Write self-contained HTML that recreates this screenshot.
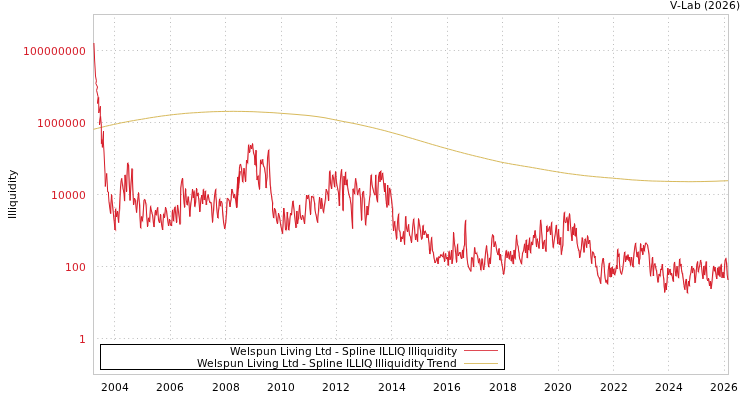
<!DOCTYPE html>
<html lang="en">
<head>
<meta charset="utf-8">
<title>V-Lab - Welspun Living Ltd - Spline ILLIQ Illiquidity</title>
<style>
html,body{margin:0;padding:0;background:#fff;}
body{width:750px;height:400px;overflow:hidden;}
svg{display:block;}
text{font-family:"DejaVu Sans","Liberation Sans",sans-serif;font-size:10.67px;fill:#000;}
.yl{fill:#d61c28;}
.grid line{stroke:#bcbcbc;stroke-width:1;stroke-dasharray:1 3.4;stroke-linecap:butt;}
</style>
</head>
<body>
<svg width="750" height="400" viewBox="0 0 750 400">
<rect x="0" y="0" width="750" height="400" fill="#ffffff"/>
<g class="grid">
<line x1="114.5" y1="375" x2="114.5" y2="15"/>
<line x1="170.5" y1="375" x2="170.5" y2="15"/>
<line x1="225.5" y1="375" x2="225.5" y2="15"/>
<line x1="281.5" y1="375" x2="281.5" y2="15"/>
<line x1="336.5" y1="375" x2="336.5" y2="15"/>
<line x1="391.5" y1="375" x2="391.5" y2="15"/>
<line x1="447.5" y1="375" x2="447.5" y2="15"/>
<line x1="502.5" y1="375" x2="502.5" y2="15"/>
<line x1="558.5" y1="375" x2="558.5" y2="15"/>
<line x1="613.5" y1="375" x2="613.5" y2="15"/>
<line x1="668.5" y1="375" x2="668.5" y2="15"/>
<line x1="724.5" y1="375" x2="724.5" y2="15"/>
<line x1="93" y1="338.5" x2="728" y2="338.5"/>
<line x1="93" y1="266.5" x2="728" y2="266.5"/>
<line x1="93" y1="194.5" x2="728" y2="194.5"/>
<line x1="93" y1="122.5" x2="728" y2="122.5"/>
<line x1="93" y1="50.5" x2="728" y2="50.5"/>
</g>
<rect x="93.5" y="14.5" width="635" height="360" fill="none" stroke="#c8c8c8" stroke-width="1"/>
<polyline fill="none" stroke="#d8ba5c" stroke-width="1" stroke-linejoin="round" points="93.5,129.3 97.5,128.3 101.5,127.3 105.5,126.3 109.5,125.4 113.5,124.5 117.4,123.7 121.4,122.8 125.4,122.1 129.4,121.3 133.4,120.6 137.4,119.9 141.4,119.3 145.4,118.6 149.4,117.9 153.4,117.3 157.3,116.7 161.3,116.1 165.3,115.6 169.3,115.1 173.3,114.6 177.3,114.2 181.3,113.8 185.3,113.4 189.3,113.1 193.3,112.8 197.3,112.6 201.2,112.3 205.2,112.1 209.2,111.9 213.2,111.7 217.2,111.6 221.2,111.5 225.2,111.4 229.2,111.4 233.2,111.3 237.2,111.4 241.2,111.4 245.1,111.5 249.1,111.6 253.1,111.7 257.1,111.9 261.1,112.1 265.1,112.3 269.1,112.5 273.1,112.7 277.1,113.0 281.1,113.3 285.0,113.6 289.0,113.9 293.0,114.2 297.0,114.5 301.0,114.9 305.0,115.2 309.0,115.6 313.0,116.1 317.0,116.6 321.0,117.2 325.0,117.8 328.9,118.6 332.9,119.4 336.9,120.2 340.9,121.0 344.9,121.8 348.9,122.5 352.9,123.3 356.9,124.1 360.9,125.0 364.9,125.9 368.8,126.8 372.8,127.7 376.8,128.7 380.8,129.7 384.8,130.7 388.8,131.8 392.8,132.9 396.8,134.0 400.8,135.1 404.8,136.3 408.8,137.5 412.7,138.6 416.7,139.8 420.7,141.0 424.7,142.2 428.7,143.4 432.7,144.6 436.7,145.7 440.7,146.9 444.7,148.0 448.7,149.1 452.7,150.2 456.6,151.3 460.6,152.3 464.6,153.4 468.6,154.4 472.6,155.4 476.6,156.4 480.6,157.3 484.6,158.3 488.6,159.3 492.6,160.2 496.5,161.1 500.5,162.0 504.5,162.8 508.5,163.5 512.5,164.3 516.5,164.9 520.5,165.6 524.5,166.3 528.5,166.9 532.5,167.6 536.5,168.3 540.4,169.0 544.4,169.7 548.4,170.4 552.4,171.1 556.4,171.7 560.4,172.4 564.4,173.0 568.4,173.6 572.4,174.1 576.4,174.6 580.3,175.1 584.3,175.6 588.3,176.0 592.3,176.4 596.3,176.8 600.3,177.1 604.3,177.5 608.3,177.8 612.3,178.1 616.3,178.5 620.3,178.8 624.2,179.2 628.2,179.5 632.2,179.9 636.2,180.1 640.2,180.4 644.2,180.6 648.2,180.8 652.2,181.0 656.2,181.1 660.2,181.2 664.2,181.3 668.1,181.4 672.1,181.5 676.1,181.5 680.1,181.6 684.1,181.6 688.1,181.7 692.1,181.7 696.1,181.6 700.1,181.6 704.1,181.5 708.0,181.4 712.0,181.3 716.0,181.2 720.0,181.0 724.0,180.9 728.0,180.7"/>
<polyline fill="none" stroke="#d71c28" stroke-opacity="0.42" stroke-width="0.8" stroke-linejoin="round" points="109.5,202.2 110.2,207.6 111.1,213.7 110.7,204.0 112.1,195.3 111.6,199.2 112.8,205.8 113.9,216.1 115.8,231.2 115.4,219.8 115.9,207.7 116.0,211.7 116.9,216.3 116.5,213.9 118.0,211.9 118.0,217.2 119.0,222.9 119.0,214.1 120.3,208.3 120.3,197.6 121.0,186.3 120.8,181.5 122.2,178.2 122.3,181.4 123.3,185.9 122.8,188.6 124.8,193.9 124.7,197.2 124.8,201.3 125.0,187.3 125.3,174.6 126.2,184.3 126.9,191.3 126.6,176.2 128.2,162.2 128.1,163.8 128.9,165.6 128.9,183.2 130.4,200.3 130.7,183.8 132.8,169.3 132.6,187.9 133.9,204.7 134.4,201.9 134.9,199.3 134.7,198.8 136.2,200.6 135.8,205.5 136.8,212.7 137.0,205.1 138.5,196.9 138.7,194.7 139.1,193.5 138.7,197.7 140.3,205.8 139.7,215.6 141.2,229.1 140.7,223.6 142.2,216.8 141.9,217.6 142.8,222.2 142.5,218.6 143.4,215.8 143.6,206.9 144.4,200.6 144.1,198.9 145.6,200.4 145.6,201.6 146.8,204.2 146.3,215.3 148.0,225.9 147.7,222.1 149.1,217.0 148.9,221.2 150.3,222.4 150.2,214.5 150.9,205.3 150.5,210.0 152.2,212.2 151.5,213.4 153.0,215.6 153.1,222.5 154.3,227.1 154.7,221.2 155.7,213.5 155.5,212.7 156.0,210.5 156.2,213.6 156.5,215.8 157.1,211.5 158.1,207.2 158.1,214.1 158.8,220.4 159.5,222.6 160.2,222.7 160.2,218.7 161.0,214.9 160.6,219.8 161.8,224.3 162.0,226.2 163.1,230.0 163.1,223.3 163.9,212.7 163.8,216.5 164.9,217.1 165.4,213.0 166.0,208.0 165.8,209.5 166.9,210.8 167.3,216.2 168.2,218.7 168.1,221.9 168.9,226.0 169.3,223.5 170.2,220.2 169.8,221.0 171.0,224.4 170.7,225.2 172.1,226.0 171.6,223.5 172.8,218.9 171.8,213.1 173.2,208.8 173.2,215.7 174.0,221.8 173.5,213.9 175.0,207.8 175.1,207.2 175.4,205.8 175.4,209.3 176.1,212.4 176.3,218.9 177.1,222.2 177.0,213.0 177.8,204.9 178.2,207.5 178.9,211.6 179.2,216.1 180.1,220.7 179.6,223.1 180.8,223.4 180.7,215.4 180.9,204.9 180.7,197.7 181.2,188.2 181.5,185.9 182.3,181.9 182.2,179.1 183.2,178.8 182.9,183.2 183.4,188.0 183.7,192.9 184.1,196.8 183.8,203.0 185.2,207.1 184.6,197.8 186.1,189.2 185.8,192.8 186.9,198.9 187.0,201.5 187.7,205.7 187.3,199.7 188.8,197.1 188.9,200.8 189.8,204.0 189.8,209.0 190.2,216.6 190.1,210.4 191.4,203.1 191.5,201.2 192.0,198.7 192.3,195.2 192.9,189.9 193.4,193.6 193.9,197.2 193.7,194.8 194.6,190.3 194.8,199.0 195.2,207.3 195.2,204.7 196.1,201.9 196.0,195.2 197.3,189.1 196.6,191.9 197.6,195.8 197.9,195.7 198.5,192.5 198.1,196.9 199.6,199.0 199.6,204.6 200.2,211.3 200.5,205.5 201.3,200.3 200.9,198.2 202.2,195.0 201.9,198.6 203.1,203.8 202.8,196.5 203.9,188.6 203.5,195.1 204.8,200.1 205.1,195.8 205.9,190.3 205.9,198.9 207.0,204.5 206.5,202.8 207.6,199.3 208.1,195.2 208.6,195.1 208.4,196.0 209.7,199.8 209.8,200.4 210.5,203.5 210.0,201.6 211.6,203.1 211.7,203.3 212.1,207.7 212.0,215.3 212.9,221.4 212.6,214.9 214.1,210.0 214.1,201.9 214.9,195.2 215.3,194.2 216.3,188.4 215.4,196.1 216.7,200.7 216.4,205.9 217.6,211.8 217.5,213.5 218.5,218.9 218.0,212.9 219.5,207.8 218.8,202.5 220.1,197.7 220.2,203.4 220.9,206.9 220.7,203.2 221.6,201.0 222.0,202.9 222.4,204.1 222.6,209.8 223.5,214.8 223.5,219.6 224.1,222.7 224.4,225.2 225.4,227.9 225.0,225.9 226.0,222.6 226.2,217.9 226.9,213.2 227.0,204.5 227.8,198.2 227.7,198.2 229.0,199.4 228.9,200.8 230.0,199.8 229.7,204.7 230.4,206.7 230.1,202.6 231.5,199.0 231.2,195.7 232.4,189.0 232.8,191.2 233.6,193.4 233.6,194.2 234.4,198.7 233.7,197.3 234.9,193.9 234.7,196.5 236.1,197.9 236.4,203.0 237.1,207.8 236.7,198.1 237.8,190.2 237.3,184.6 238.2,176.7 237.9,178.6 238.9,182.7 238.7,180.2 239.9,174.8 240.1,174.8 240.3,172.1 238.2,189.4 237.3,207.3 237.1,193.8 238.4,176.9 238.5,184.0 238.9,188.0 239.0,177.6 239.9,165.3 240.0,164.1 241.0,164.4 241.0,165.8 242.1,168.8 242.3,175.6 243.3,183.2 243.5,174.2 244.4,169.0 245.0,175.4 246.0,181.4 246.2,171.2 247.1,160.3 247.3,160.6 247.9,164.2 248.4,155.1 248.8,143.9 248.8,148.8 250.1,152.0 250.0,147.7 250.8,145.5 251.1,147.4 252.0,148.9 251.7,145.8 253.2,144.4 252.6,147.1 254.2,153.3 254.3,153.6 255.0,155.4 255.1,160.1 255.6,166.3 255.3,157.6 256.7,151.1 256.2,157.1 256.8,166.0 256.3,171.2 257.6,180.0 257.7,177.4 258.7,174.9 258.0,180.0 258.8,182.5 259.2,186.8 259.9,188.6 259.9,175.4 261.0,159.0 261.2,162.2 262.3,165.1 262.4,161.6 263.2,159.0 262.8,162.4 264.3,167.0 263.7,166.6 265.0,167.6 264.9,171.2 265.9,175.2 266.0,181.6 266.7,188.2 266.2,183.3 267.7,176.4 266.8,167.5 268.1,158.2 268.5,154.5 269.2,148.9 269.0,160.9 269.8,168.9 270.0,176.2 270.3,180.3 269.9,184.7 271.1,187.3 270.7,192.8 272.1,196.7 271.9,199.0 273.3,203.4 272.5,206.6 273.2,210.5 273.4,213.7 274.2,218.4 274.4,213.9 275.2,209.0 275.5,209.9 276.1,211.5 276.3,215.3 277.0,219.1 277.2,223.5 278.0,223.1 277.7,218.3 278.9,214.2 278.6,214.4 279.9,217.4 280.3,219.5 280.8,223.9 281.1,227.7 281.8,228.0 281.7,230.4 282.9,234.1 282.8,228.4 283.4,224.4 283.0,217.3 284.2,208.1 284.4,211.4 284.9,216.0 285.4,222.0 286.1,231.2 286.0,228.7 286.8,230.2 287.2,220.2 287.8,212.0 287.4,217.5 288.6,219.3 287.9,224.9 289.2,230.8 289.3,227.3 289.9,223.1 289.8,217.8 291.2,213.0 291.1,215.5 291.9,215.1 291.7,209.8 292.8,203.8 293.1,203.0 293.3,200.4 293.7,204.3 294.5,209.9 295.0,215.3 295.7,219.5 295.8,223.8 296.8,226.9 296.7,218.6 297.4,211.1 296.8,218.5 298.0,223.5 297.6,220.4 299.0,218.6 298.9,212.1 299.9,204.7 300.0,212.4 301.2,217.4 300.5,218.1 302.2,219.3 302.1,217.4 302.8,216.3 303.3,215.6 304.1,217.5 303.9,221.1 304.9,223.6 304.9,217.5 305.9,209.2 306.2,202.0 307.3,195.2 307.2,196.5 308.2,197.9 307.6,195.8 309.1,195.5 308.7,198.2 310.2,202.2 309.6,207.7 310.9,214.0 310.9,204.2 312.3,195.8 312.0,196.9 313.2,197.8 312.9,196.5 314.0,195.7 313.9,200.6 315.3,203.8 314.9,206.8 315.3,209.6 315.3,213.0 316.4,214.7 316.8,219.6 318.2,222.8 317.7,217.0 319.3,210.1 318.9,203.5 319.9,197.6 320.5,201.0 321.2,205.9 320.4,208.3 321.6,208.2 320.8,202.7 322.1,198.5 321.8,202.8 323.0,204.9 322.6,210.2 323.9,213.6 324.0,208.9 325.1,204.4 325.4,203.0 326.2,198.3 325.5,194.5 326.6,190.0 326.4,190.7 327.9,191.2 327.6,192.2 328.3,194.2 328.7,199.3 329.1,200.5 329.2,187.0 330.0,171.7 330.1,170.0 330.4,171.4 329.9,176.9 331.1,182.2 331.0,185.3 332.1,188.6 332.1,180.6 333.1,174.1 333.5,176.8 334.0,177.8 334.1,183.1 335.2,187.7 335.0,180.7 336.2,172.4 335.9,177.1 337.1,184.1 337.0,185.6 338.0,189.1 337.8,189.2 339.2,194.0 339.1,199.8 340.0,205.5 339.7,194.2 340.4,184.9 340.4,179.7 341.1,175.5 341.2,171.5 342.0,169.2 341.6,173.5 343.0,181.2 342.8,196.3 343.5,211.3 343.2,194.0 344.6,177.0 343.9,181.4 345.1,185.1 345.6,177.0 345.9,171.5 345.7,177.2 346.9,185.8 346.5,182.1 347.6,178.8 347.0,186.2 348.5,190.0 348.9,193.9 349.5,194.2 349.3,197.8 350.7,197.2 350.8,201.1 351.5,204.1 352.1,218.2 352.9,228.8 352.4,209.9 353.3,188.0 353.5,189.4 354.3,192.0 354.2,191.4 355.1,195.1 354.9,185.0 355.9,178.0 356.2,180.3 356.9,183.3 357.2,190.4 358.0,195.4 358.4,193.3 358.9,190.5 359.4,190.0 359.9,188.4 359.6,194.4 361.0,198.1 361.0,207.9 362.1,219.9 361.8,207.7 362.8,192.4 363.3,191.2 363.9,191.1 363.5,196.7 365.0,198.8 364.8,213.3 366.0,226.1 366.0,219.0 367.1,215.4 366.6,211.0 367.7,206.0 367.4,211.5 368.4,215.1 368.9,208.0 369.7,202.1 369.6,198.2 370.5,195.7 370.5,189.9 370.9,183.0 370.6,179.2 371.7,173.8 371.7,180.6 372.6,186.0 372.2,186.0 373.3,189.0 373.4,190.8 374.4,193.8 374.1,195.2 375.6,195.1 375.6,184.2 376.1,174.5 375.6,185.4 377.1,197.1 376.8,199.8 377.8,202.8 377.7,188.8 378.9,177.5 379.3,175.4 379.8,171.8 379.6,176.1 380.8,180.8 380.2,177.3 381.3,170.1 381.0,176.2 381.8,179.3 382.4,175.4 383.0,172.5 382.9,176.2 383.8,183.3 384.3,187.7 384.9,191.4 384.8,186.7 385.5,184.1 385.4,191.0 386.8,200.3 386.0,203.5 387.6,206.4 387.1,196.8 388.2,185.2 388.4,194.9 389.0,205.9 388.9,197.3 389.9,187.6 389.7,189.6 390.9,190.2 390.7,195.4 392.0,199.9 392.5,205.5 393.2,209.2 392.6,215.2 393.6,222.6 393.0,225.6 393.9,230.4 393.9,227.5 395.2,220.9 394.9,224.7 396.3,229.6 396.3,235.4 397.3,238.3 396.8,230.4 397.8,223.0 397.8,218.8 399.1,212.8 398.6,221.2 399.3,229.1 399.6,229.6 400.5,231.8 400.4,235.9 401.5,241.4 401.4,240.0 401.9,236.2 401.8,238.6 403.0,238.7 403.4,234.4 403.9,231.1 403.7,236.6 404.8,244.8 405.1,231.4 406.3,216.0 406.2,223.5 406.9,228.5 407.2,231.4 408.2,231.3 408.1,227.0 409.0,224.2 408.6,229.4 410.0,235.0 409.8,235.0 411.0,236.9 410.7,240.5 411.9,241.9 411.8,235.8 412.9,229.2 413.2,224.2 414.2,217.8 413.9,223.1 414.8,227.8 414.6,234.0 416.1,239.9 415.8,236.3 416.8,233.6 417.4,237.9 417.9,241.9 417.7,229.9 419.1,219.7 418.9,222.0 420.3,225.7 420.1,228.4 421.0,230.8 420.8,236.2 422.2,239.2 422.3,237.4 422.6,238.0 422.4,231.3 423.8,224.6 423.2,229.4 424.6,234.3 424.0,233.1 425.5,230.3 425.5,232.5 426.6,233.3 426.6,236.5 427.8,237.6 427.3,237.2 428.5,234.6 428.7,239.6 429.8,244.8 429.1,249.4 430.3,254.2 430.0,251.4 431.2,250.1 430.7,243.0 432.0,236.7 432.0,243.1 432.8,249.9 432.5,252.1 433.6,251.9 433.9,254.9 434.4,259.0 434.9,259.2 435.4,263.0 435.8,261.7 436.7,260.4 436.7,258.7 437.5,258.2 437.8,261.7 438.6,263.8 438.6,260.6 439.5,257.3 438.9,256.9 440.4,257.3 440.0,254.8 441.4,255.6 441.8,254.2 442.4,255.8 442.4,256.2 443.6,258.3 442.7,255.4 443.9,251.3 443.8,257.9 445.3,261.0 444.8,256.3 446.1,253.5 445.9,255.7 447.2,259.9 446.8,257.7 448.1,257.7 448.3,260.9 448.8,265.6 448.9,257.4 449.4,250.5 449.9,255.0 450.5,259.0 450.2,257.1 451.4,256.1 451.3,252.8 451.9,250.0 451.6,256.3 452.3,262.9 452.8,260.4 453.1,257.2 453.1,246.5 453.9,233.0 453.8,236.2 454.9,240.7 454.2,244.2 455.6,247.3 455.1,251.3 456.4,254.3 456.0,258.8 457.2,261.7 456.5,252.5 457.9,243.4 457.7,251.0 458.7,256.0 458.1,254.1 459.8,252.7 459.5,253.9 460.7,252.6 460.3,255.4 461.5,257.7 461.6,256.8 462.3,258.7 462.2,253.8 463.3,248.8 462.9,253.2 463.7,257.7 463.7,253.7 464.3,247.9 464.0,245.6 465.3,244.5 464.3,234.5 465.7,224.2 465.5,222.9 466.1,219.7 465.4,229.7 466.5,240.8 465.8,245.5 467.0,249.5 466.9,256.4 467.6,261.0 467.4,263.3 468.4,266.3 468.4,267.9 469.4,267.8 469.7,268.0 470.4,270.5 470.8,270.2 471.2,271.1 471.6,263.4 472.1,257.2 472.1,256.9 473.1,259.0 473.4,262.9 474.1,267.2 473.6,258.3 475.1,247.4 475.2,250.5 476.0,253.3 476.1,253.7 477.1,251.8 477.1,254.3 478.1,256.2 478.4,258.5 479.0,264.3 479.2,260.2 480.2,259.8 480.1,265.4 481.2,271.3 481.4,263.5 482.7,258.9 483.2,265.2 484.2,270.0 484.5,265.7 485.2,264.6 484.8,259.4 486.0,253.1 486.4,248.3 486.9,245.9 486.6,250.4 488.2,255.0 487.7,261.9 489.2,267.7 489.0,263.7 490.2,257.1 489.7,259.8 490.5,263.6 491.0,259.5 491.4,252.2 491.3,247.5 492.4,241.0 491.7,238.7 492.9,234.8 493.4,235.9 493.9,236.4 493.7,240.0 494.5,246.5 494.8,243.6 495.9,242.0 495.3,242.6 496.6,245.9 496.1,247.8 497.8,252.3 497.4,252.6 498.8,255.5 498.7,251.3 499.5,248.3 499.0,254.6 500.3,260.8 500.1,256.9 501.1,255.1 500.8,258.6 501.9,262.2 501.8,265.6 502.9,267.9 503.2,270.6 504.3,274.2 504.2,272.1 505.0,267.9 504.8,261.8 505.8,257.2 505.5,253.8 506.8,249.8 506.5,253.1 507.7,257.4 507.5,254.3 508.9,252.4 508.8,255.4 509.5,260.0 509.4,254.6 511.0,251.6 511.0,255.5 511.9,262.2 511.2,258.4 512.7,254.6 512.7,258.9 513.8,264.3 514.1,258.4 514.8,249.7 514.8,254.7 515.7,259.8 515.0,252.6 516.3,247.4 515.9,242.5 516.9,234.7 516.5,238.7 517.9,241.9 517.3,244.9 518.6,246.6 518.3,250.4 519.7,253.7 518.9,255.4 519.8,258.9 520.4,260.7 520.8,260.6 521.0,262.6 521.9,264.8 521.8,258.5 522.9,253.2 522.6,251.0 524.1,251.0 524.3,247.0 525.0,242.8 524.7,248.4 526.1,252.9 526.2,245.3 526.9,239.1 527.2,249.1 527.7,258.3 528.0,252.9 528.5,243.7 528.0,248.5 529.4,250.6 528.8,244.1 529.8,237.0 529.8,246.9 531.1,253.9 530.5,247.2 531.8,241.4 531.6,244.8 533.0,245.0 533.2,241.2 534.3,235.2 533.9,237.7 534.7,237.5 534.8,233.5 535.5,230.3 535.4,233.3 536.3,236.9 535.7,243.0 536.8,247.1 536.9,242.7 537.6,238.0 537.5,240.4 538.5,242.3 538.7,245.7 539.3,248.3 539.9,240.3 540.4,236.2 540.0,227.8 541.0,219.5 541.0,222.8 541.7,225.0 541.6,231.8 542.3,235.9 542.2,242.3 543.5,248.8 543.5,245.7 543.9,243.5 543.6,243.0 545.2,239.6 544.7,245.0 546.0,248.4 545.2,250.5 546.3,251.8 546.4,240.0 547.3,224.8 547.5,229.8 548.1,230.7 548.2,230.8 549.1,231.3 549.4,227.0 550.2,226.3 550.3,230.4 551.0,234.8 550.6,228.2 552.2,221.4 551.5,229.8 552.8,235.1 552.3,240.1 553.7,248.7 553.8,245.0 554.6,239.8 554.7,238.0 555.6,235.0 555.7,228.1 556.8,224.7 556.8,231.3 557.5,235.5 557.3,240.3 558.2,244.6 557.8,237.0 558.9,229.1 558.5,234.3 559.8,240.1 559.4,242.7 560.5,244.6 560.2,241.2 561.3,237.1 561.1,245.2 561.7,255.1 561.7,251.5 562.3,250.8 562.3,248.1 563.3,245.3 563.2,234.9 564.3,221.9 563.9,216.4 565.0,211.5 564.5,218.3 565.3,222.5 565.5,222.7 566.3,222.1 566.7,221.0 567.4,216.5 567.4,218.4 567.9,221.1 567.9,224.9 568.7,231.2 568.7,226.3 569.3,218.6 569.6,216.9 569.9,214.4 570.1,217.0 570.6,220.8 570.6,225.8 571.4,230.4 571.1,236.0 572.4,240.4 572.2,234.0 573.5,226.1 573.5,232.1 574.1,235.1 574.2,229.4 575.1,224.6 575.1,229.0 575.5,237.1 575.6,232.9 576.6,227.9 576.5,236.2 577.8,243.0 577.6,245.0 578.4,249.2 578.1,250.8 579.6,249.9 579.8,253.3 580.3,257.0 580.6,254.4 581.2,250.9 581.0,249.2 581.5,249.2 582.2,243.8 582.9,238.2 582.6,239.0 583.6,242.2 583.5,247.3 584.5,251.7 584.7,245.5 585.5,237.9 585.4,240.2 586.6,241.2 585.8,243.7 587.0,248.0 587.4,242.9 588.3,236.6 588.4,241.1 588.8,244.0 589.1,242.6 590.1,240.3 590.2,240.8 590.6,245.2 589.8,245.8 591.2,251.2 590.5,255.3 592.2,264.0 592.0,258.0 593.2,252.8 592.5,251.0 594.2,253.7 594.3,255.0 595.0,257.6 594.3,257.8 595.4,256.2 595.4,261.0 596.4,266.9 596.0,267.9 597.2,265.6 596.9,270.2 598.2,273.6 597.7,276.0 598.9,277.1 598.8,278.6 599.9,277.3 599.8,280.2 601.2,284.0 601.3,276.9 601.8,270.7 601.7,264.2 603.0,261.3 602.8,258.6 604.1,259.3 603.5,260.4 604.7,265.7 604.3,272.4 605.5,277.4 605.6,281.0 606.5,283.3 606.0,281.2 607.5,278.9 607.7,280.9 607.9,285.0 608.3,278.3 608.7,271.1 608.4,267.1 610.1,262.2 609.3,270.5 610.7,277.6 610.8,272.4 611.3,267.0 610.9,273.8 611.8,276.2 611.7,270.6 612.7,266.2 612.2,270.6 613.6,274.2 613.7,271.6 614.6,267.9 613.9,270.7 615.0,275.7 615.4,273.5 615.9,271.6 616.1,267.9 617.2,266.2 616.7,267.3 617.7,268.9 616.9,260.6 618.3,248.3 618.1,253.0 618.5,256.1 618.3,256.2 619.4,252.8 619.1,261.4 620.2,267.4 620.1,268.5 620.8,271.5 620.5,272.5 622.1,274.2 622.0,272.6 623.0,269.6 623.4,266.2 624.0,262.1 624.0,256.5 625.3,251.3 625.4,258.1 626.2,261.1 625.9,260.5 626.6,255.1 626.8,257.2 627.6,259.1 627.9,256.6 628.3,255.0 628.3,257.9 629.5,262.1 629.4,258.6 630.0,257.0 629.9,261.5 631.1,265.4 630.6,261.2 632.0,257.4 632.3,259.3 632.7,261.9 632.9,264.2 633.7,267.8 633.2,262.2 634.4,254.8 634.2,253.3 635.0,249.0 634.8,247.0 636.1,242.6 635.6,246.1 637.0,251.8 637.1,255.3 637.6,257.8 637.7,255.4 638.7,251.2 638.8,257.4 639.4,265.1 638.9,261.0 640.3,258.8 640.3,252.0 641.3,243.9 640.4,247.8 641.6,252.3 642.0,248.9 642.4,248.5 642.7,253.0 643.4,254.0 643.4,248.7 644.2,245.7 644.1,249.1 644.8,252.2 644.7,248.5 645.5,245.6 644.9,243.5 646.4,242.3 646.3,244.1 647.1,243.5 646.8,243.6 647.9,245.4 648.0,248.3 648.7,250.1 649.0,251.4 649.8,255.3 649.9,261.8 650.3,266.4 650.2,271.5 650.8,276.9 650.9,272.4 651.9,268.3 651.3,266.2 652.4,262.6 651.8,258.7 653.0,257.1 653.3,266.9 653.8,275.8 653.4,270.4 654.8,264.0 654.3,264.8 655.5,263.6 655.3,266.6 656.3,266.4 656.0,270.5 657.1,270.2 657.1,272.7 657.6,277.1 657.4,280.4 658.7,282.0 658.8,278.7 659.7,273.9 659.4,273.8 660.5,277.2 660.8,271.2 661.1,268.4 661.3,269.3 661.9,269.8 662.0,267.7 662.8,264.4 662.8,268.8 663.3,273.5 663.0,275.2 664.3,278.7 663.8,285.9 665.2,291.5 665.6,288.8 666.0,283.2 665.7,288.0 666.7,289.5 666.4,286.6 667.6,280.8 667.3,275.7 668.2,268.8 668.4,271.3 669.0,274.8 668.9,272.9 669.9,271.8 669.5,271.3 670.5,268.9 670.8,271.9 671.3,276.0 671.6,274.9 672.0,273.4 672.2,274.9 673.2,279.2 673.1,280.3 673.8,281.9 673.4,274.1 674.6,266.2 674.1,264.1 674.8,261.8 675.2,265.8 675.9,270.3 675.5,275.0 676.4,277.1 676.1,271.2 677.7,266.9 677.3,270.3 678.5,274.7 678.4,276.2 678.9,278.5 679.1,268.6 680.3,258.1 680.1,262.0 680.9,267.2 680.4,265.2 681.6,264.0 681.1,268.4 682.5,272.4 681.9,273.9 683.0,273.1 683.0,276.9 683.9,281.3 683.7,283.9 684.5,285.7 683.9,286.7 685.3,290.0 685.4,285.4 685.9,281.6 685.9,279.1 686.8,279.4 686.4,285.4 688.0,294.1 687.4,288.0 688.4,283.9 688.5,283.7 688.9,281.0 689.0,282.1 689.9,286.9 689.3,281.6 690.6,275.6 690.8,273.7 691.3,272.5 691.2,270.4 692.3,266.3 692.6,268.7 692.9,273.3 692.6,271.9 693.8,267.8 693.7,270.0 695.0,270.5 694.3,276.1 695.7,282.3 695.9,279.6 696.4,273.6 696.1,270.2 697.1,265.5 696.7,264.3 698.1,261.7 697.5,265.4 698.8,273.3 698.8,271.1 699.3,267.0 698.9,267.1 700.2,264.4 700.3,263.1 701.0,259.9 700.6,261.7 701.7,262.6 701.3,266.9 702.4,270.7 702.3,275.8 703.4,278.0 703.7,272.4 704.4,265.5 704.5,271.3 705.1,275.4 705.1,272.5 705.8,269.7 705.8,265.7 706.8,261.6 706.9,271.4 707.4,277.8 707.2,278.6 708.5,281.3 707.9,278.6 709.2,278.9 709.2,282.6 710.2,285.9 709.8,283.7 711.0,282.3 711.1,286.0 711.3,288.3 712.0,285.1 712.6,280.5 712.8,276.6 713.6,270.9 713.6,267.5 713.9,265.7 714.0,267.3 714.9,272.1 714.6,269.8 715.6,267.2 715.2,270.9 716.8,275.5 716.1,276.8 717.3,278.6 717.2,273.9 717.8,267.3 718.0,270.6 718.5,275.7 718.4,272.4 719.6,266.0 719.5,271.0 720.5,277.1 720.4,270.9 720.8,268.8 720.5,265.4 721.6,263.6 721.6,272.6 722.5,277.4 722.8,274.1 723.6,272.3 723.8,273.6 724.4,277.7 724.5,271.8 725.2,266.2 724.7,265.4 725.4,260.4 725.8,260.3 726.1,257.7 725.9,260.1 727.2,263.5 727.3,269.5 727.8,274.7 727.8,277.5 728.3,280.0"/>
<polyline fill="none" stroke="#d71c28" stroke-width="1" stroke-linejoin="round" points="93.9,43.0 94.3,52.0 94.6,60.0 95.2,70.0 95.5,76.0 96.4,80.8 95.9,83.6 97.5,87.0 96.6,90.4 98.1,96.8 97.6,103.5 98.7,97.5 98.8,113.0 100.4,106.2 100.3,116.0 99.5,124.9 100.6,116.5 101.3,125.0 101.4,143.7 101.9,139.5 102.4,147.4 103.5,131.1 103.3,141.0 104.0,152.0 104.5,163.0 105.0,173.0 105.3,186.5 106.7,173.4 107.7,192.0 108.5,192.0 108.5,195.0 109.0,202.0 110.5,213.5 111.5,194.5 112.5,205.0 115.0,230.0 115.5,209.0 116.5,217.0 117.5,211.0 118.5,222.5 119.5,207.0 120.5,187.0 121.5,178.5 122.5,185.0 124.0,194.0 124.5,201.0 125.0,175.0 126.5,192.0 127.5,163.0 128.5,165.0 130.0,200.5 132.0,168.5 133.5,205.0 134.5,198.0 135.5,201.0 136.5,212.5 138.0,197.0 138.5,192.5 139.5,205.0 140.5,228.0 141.5,216.5 142.5,221.0 143.0,215.0 144.0,200.0 145.0,199.5 146.0,205.0 147.5,227.0 148.5,218.0 149.5,222.0 150.5,206.5 151.5,211.0 152.5,215.0 154.0,227.0 155.0,213.0 155.5,210.0 156.0,215.0 157.5,207.5 158.5,220.0 159.5,223.0 160.5,214.0 161.5,224.0 162.5,230.0 163.5,214.0 164.5,218.0 165.5,207.0 166.5,211.0 167.5,219.0 168.5,226.0 169.5,219.0 170.5,225.0 171.5,226.0 172.0,219.0 172.5,210.0 173.5,221.0 174.5,209.0 175.0,207.0 175.5,212.0 176.5,223.0 177.5,205.0 178.5,212.0 179.5,220.0 180.0,224.5 180.5,205.0 180.7,188.0 181.5,182.0 182.5,178.0 183.0,187.0 183.5,196.0 184.5,207.5 185.5,188.5 186.2,200.0 187.2,205.0 188.2,196.5 189.0,204.0 189.8,216.5 190.8,203.0 191.5,199.0 192.5,189.0 193.3,198.0 194.0,191.5 194.7,206.5 195.5,203.0 196.5,188.0 197.2,196.0 198.0,193.0 198.8,200.0 199.8,212.0 200.8,200.0 201.8,195.0 202.5,204.0 203.3,189.5 204.2,200.0 205.2,191.0 206.2,205.0 207.2,198.0 208.2,194.5 209.0,200.0 210.0,203.0 211.0,202.0 211.5,207.0 212.5,222.5 213.5,210.0 214.5,196.0 215.5,189.5 216.2,200.0 217.0,212.0 217.8,218.0 218.8,208.0 219.5,199.0 220.2,206.0 221.0,201.0 222.0,203.0 222.8,215.0 223.5,222.0 224.7,229.0 225.7,223.0 226.5,212.0 227.2,198.0 228.2,199.0 229.2,201.0 230.0,207.0 231.0,200.0 231.8,189.0 232.8,193.0 233.8,198.0 234.5,194.0 235.5,199.0 236.5,207.5 237.2,190.0 237.8,178.0 238.5,182.0 239.2,176.0 240.0,171.0 236.5,208.0 237.7,177.0 238.3,189.0 239.5,166.5 240.5,164.0 241.5,169.0 242.5,182.0 244.0,168.0 245.5,182.0 246.5,160.0 247.5,163.0 248.5,145.0 249.5,153.0 250.5,145.0 251.5,149.0 252.5,143.5 253.5,153.0 254.5,156.0 255.0,165.0 256.0,150.0 256.5,165.0 257.0,180.0 258.0,176.0 258.5,183.0 259.5,189.5 260.5,160.0 261.5,164.0 262.5,159.5 263.5,166.0 264.5,168.0 265.5,175.0 266.0,188.0 267.0,177.0 267.5,158.0 268.5,150.0 269.5,170.0 270.0,180.0 270.5,188.0 271.5,196.0 272.5,203.0 272.5,210.0 273.5,218.0 274.5,208.0 275.5,211.0 276.5,220.0 277.5,224.0 278.5,213.0 279.5,217.0 280.5,224.0 281.5,229.0 282.5,233.5 283.0,225.0 283.7,208.0 284.5,215.0 285.5,230.0 286.5,229.0 287.2,212.0 288.0,220.0 288.7,230.0 289.5,224.0 290.5,213.0 291.5,215.0 292.5,203.0 293.0,201.0 294.0,210.0 295.0,220.0 296.0,228.0 296.8,211.0 297.5,224.0 298.5,218.0 299.5,205.0 300.5,217.0 301.5,220.0 302.5,215.0 303.5,218.0 304.5,224.0 305.5,210.0 306.5,195.0 307.5,199.0 308.5,195.0 309.5,202.0 310.5,215.0 311.5,196.0 312.5,197.0 313.5,197.0 314.5,203.0 315.0,210.0 316.0,215.0 317.5,222.5 318.5,210.0 319.5,197.0 320.5,205.0 321.0,209.0 321.5,198.0 322.5,205.0 323.5,212.5 324.5,205.0 325.5,198.0 326.2,189.0 327.2,192.0 328.0,195.0 328.5,201.0 329.5,171.5 330.0,171.5 330.5,183.0 331.5,189.0 332.5,175.0 333.5,178.0 334.5,187.0 335.5,171.5 336.5,183.0 337.5,188.0 338.5,193.0 339.3,206.0 340.0,185.0 340.8,175.0 341.5,169.5 342.2,180.0 343.0,210.5 344.0,176.0 344.7,185.0 345.5,172.0 346.2,185.0 347.0,180.0 348.0,190.0 349.0,195.0 350.0,198.0 351.0,205.0 352.5,228.5 353.0,189.0 353.5,191.0 354.5,194.0 355.5,178.5 356.5,184.0 357.5,195.0 358.5,191.0 359.5,188.0 360.5,198.0 361.5,220.5 362.5,193.0 363.5,191.0 364.2,200.0 365.5,225.0 366.5,215.0 367.0,206.0 367.8,215.0 369.0,203.0 370.0,195.0 370.5,183.0 371.2,175.0 372.0,185.0 373.0,189.0 374.0,193.0 375.0,195.0 375.7,175.0 376.5,197.0 377.5,202.0 378.5,177.0 379.5,172.0 380.0,182.0 380.5,171.0 381.5,180.0 382.5,173.0 383.5,182.0 384.5,192.0 385.0,183.0 386.0,200.0 387.0,207.5 387.5,185.0 388.5,205.0 389.5,188.0 390.5,191.0 391.5,200.0 392.5,210.0 393.0,223.0 393.5,231.0 394.5,221.5 395.5,230.0 396.5,239.5 397.5,222.0 398.5,214.0 399.0,230.0 400.0,232.0 400.8,242.0 401.5,237.0 402.5,239.0 403.5,231.5 404.5,244.5 405.5,216.5 406.5,228.0 407.5,232.0 408.5,224.5 409.5,235.0 410.5,237.0 411.5,243.0 412.5,229.0 413.5,219.0 414.5,228.0 415.5,240.0 416.5,234.0 417.5,241.5 418.5,218.5 419.5,225.0 420.5,231.0 421.5,239.5 422.2,238.0 423.0,225.5 424.0,235.0 425.0,231.0 426.0,233.0 427.0,238.0 428.0,234.0 429.0,244.0 429.8,254.0 430.5,250.0 431.5,237.5 432.5,251.0 433.2,252.0 434.0,258.0 435.0,263.0 436.0,261.0 437.0,257.5 438.0,264.0 438.8,256.5 439.8,258.0 440.8,254.5 441.8,256.0 442.8,257.0 443.5,252.5 444.5,262.0 445.5,253.5 446.5,259.0 447.5,257.0 448.2,265.5 449.0,251.5 450.0,260.0 450.8,257.0 451.5,250.0 452.0,264.0 452.8,258.0 453.5,232.0 454.2,241.0 455.0,247.0 455.7,253.0 456.5,262.5 457.5,244.5 458.2,256.0 459.0,254.0 460.0,252.0 460.8,257.0 461.5,259.0 462.5,250.0 463.2,258.0 463.8,247.5 464.5,245.0 465.0,225.0 465.5,220.5 466.0,241.0 466.5,250.0 467.2,260.0 468.0,265.0 469.0,268.0 470.0,270.0 470.8,271.5 471.5,257.5 472.5,258.0 473.5,267.0 474.5,247.5 475.5,254.0 476.5,253.0 477.5,256.0 478.5,263.0 479.5,258.5 480.8,270.0 482.0,258.5 483.5,270.0 484.5,264.0 485.5,253.0 486.5,245.5 487.5,255.0 488.5,267.0 489.5,258.0 490.2,264.0 491.0,253.0 491.8,240.0 492.5,234.5 493.5,236.0 494.0,247.0 495.3,241.5 496.0,246.0 497.0,252.0 498.0,255.0 499.0,248.5 499.8,260.0 500.5,254.0 501.5,262.0 502.5,267.0 503.5,274.5 504.5,269.0 505.3,256.0 506.2,250.5 507.0,258.0 508.2,251.5 509.2,259.0 510.5,251.0 511.2,261.0 512.2,255.0 513.2,264.0 514.0,250.0 515.0,258.5 515.8,247.0 516.5,235.0 517.2,243.0 518.0,246.0 519.0,253.0 519.5,258.0 520.5,261.0 521.5,264.0 522.5,253.0 523.5,251.5 524.5,244.0 525.5,253.0 526.2,240.0 527.2,258.0 528.0,245.0 528.7,250.0 529.5,238.0 530.5,253.0 531.5,242.0 532.5,245.0 533.5,235.0 534.2,238.0 535.0,230.5 535.8,237.0 536.5,247.0 537.2,239.0 538.0,243.0 539.0,248.5 539.8,235.0 540.5,220.0 541.2,225.0 542.0,237.0 542.8,249.0 543.5,243.0 544.5,240.0 545.3,248.0 546.0,251.5 546.7,226.0 547.5,232.0 548.5,230.0 549.5,226.5 550.5,235.0 551.5,222.5 552.2,235.0 553.2,247.5 554.2,240.0 555.2,234.0 556.3,225.0 557.0,235.0 557.8,244.0 558.5,229.5 559.2,240.0 559.8,245.0 560.5,237.5 561.3,254.5 562.0,250.0 562.8,245.0 563.5,222.0 564.3,212.5 565.0,222.0 565.8,223.0 566.7,217.5 567.5,221.0 568.0,231.0 568.7,219.0 569.5,213.5 570.2,222.0 571.0,231.0 572.0,241.0 572.8,227.0 573.5,235.0 574.5,223.5 575.2,236.0 576.2,228.0 577.0,243.0 578.0,248.0 579.0,251.0 579.7,258.0 580.5,252.0 581.2,249.0 582.2,237.5 583.0,243.0 584.0,252.5 585.0,239.0 585.8,241.0 586.5,247.5 587.5,235.5 588.5,244.0 589.5,240.0 590.0,244.0 590.5,250.0 591.5,263.5 592.5,252.0 593.5,252.5 594.5,258.0 595.0,256.0 595.8,267.0 596.8,266.5 597.5,274.0 598.5,277.0 599.5,278.0 600.5,283.5 601.5,270.0 602.5,260.0 603.3,258.0 604.0,265.0 605.0,278.0 606.0,282.5 607.0,280.0 607.5,284.0 608.2,270.0 609.3,263.0 610.0,277.0 610.8,268.0 611.5,277.0 612.2,267.0 613.0,274.0 613.8,269.0 614.5,275.0 615.5,272.0 616.5,265.0 617.0,269.0 617.5,249.5 618.2,257.0 619.0,254.0 619.7,267.0 620.5,272.0 621.5,274.5 622.5,270.0 623.5,262.0 624.5,252.0 625.5,262.0 626.2,256.0 627.0,260.0 628.0,254.5 629.0,261.0 629.7,257.0 630.5,265.5 631.5,257.0 632.2,263.0 633.0,267.0 633.8,255.0 634.5,249.0 635.5,243.0 636.3,251.0 637.0,257.0 638.0,252.0 639.0,264.0 639.8,258.0 640.5,243.5 641.2,251.0 642.0,248.0 642.8,255.0 643.5,245.0 644.2,251.0 645.0,246.0 645.7,243.0 646.5,243.5 647.5,245.0 648.2,249.0 649.0,255.0 649.8,267.0 650.5,276.0 651.2,269.0 652.0,263.0 652.5,257.0 653.3,276.0 654.0,265.0 654.8,263.5 655.5,267.0 656.5,271.0 657.2,277.0 658.0,282.5 659.0,274.0 660.0,276.0 660.8,269.0 661.5,270.0 662.3,264.0 663.0,273.0 663.8,280.0 664.7,292.5 665.5,283.0 666.3,290.0 667.0,281.0 667.8,268.0 668.5,275.0 669.3,272.0 670.0,269.0 670.8,275.0 671.5,273.0 672.5,278.0 673.3,281.5 674.0,265.0 674.5,262.0 675.3,271.0 676.0,276.0 677.0,266.0 677.8,274.0 678.5,278.0 679.5,259.0 680.2,266.0 681.0,264.0 681.8,272.0 682.5,274.0 683.3,280.0 684.0,285.0 684.7,289.5 685.5,282.0 686.3,279.0 687.3,293.0 688.0,285.0 688.5,281.0 689.2,286.0 690.0,276.0 690.8,273.0 691.7,266.0 692.5,273.0 693.3,268.0 694.2,270.0 695.0,283.0 696.0,274.0 696.8,265.0 697.5,261.5 698.3,272.0 699.0,268.0 699.8,265.0 700.5,260.0 701.2,263.0 702.0,272.0 703.0,279.0 703.8,266.0 704.5,275.0 705.3,270.0 706.2,261.5 707.0,279.0 707.8,281.0 708.5,278.0 709.5,286.0 710.3,281.0 711.0,289.0 712.0,281.0 712.8,272.0 713.5,266.0 714.3,271.0 715.0,267.0 716.0,275.0 716.7,279.0 717.5,268.0 718.2,275.0 719.0,267.0 719.8,276.5 720.5,268.0 721.3,264.5 722.0,278.0 723.0,272.0 723.8,278.0 724.5,267.0 725.0,261.0 725.8,258.5 726.5,263.0 727.2,275.0 728.0,280.0"/>
<rect x="98" y="341" width="408" height="32.5" fill="#ffffff"/>
<rect x="100.5" y="344.5" width="404" height="25" fill="#ffffff" stroke="#000" stroke-width="1"/>
<text x="230 240 247 250 256 263 270 277 280 286 289 295 298 305 312 315 321 325 332 335 339 342 349 356 359 362 369 376 379 382 388 394 397 405 408 411 414 417 420 427 434 437 444 447 451" y="355">Welspun Living Ltd - Spline ILLIQ Illiquidity</text>
<text x="197 207 214 217 223 230 237 244 247 253 256 262 265 272 279 282 288 292 299 302 306 309 316 323 326 329 336 343 346 349 355 361 364 372 375 378 381 384 387 394 401 404 411 414 418 424 427 432 436 443 450" y="367">Welspun Living Ltd - Spline ILLIQ Illiquidity Trend</text>
<line x1="464" y1="350.5" x2="498" y2="350.5" stroke="#d71c28" stroke-width="0.8"/>
<line x1="464" y1="363.5" x2="498" y2="363.5" stroke="#d8ba5c" stroke-width="0.9"/>
<text class="yl" x="23 30 37 44 51 58 65 72 79" y="55">100000000</text>
<text class="yl" x="37 44 51 58 65 72 79" y="127">1000000</text>
<text class="yl" x="51 58 65 72 79" y="199">10000</text>
<text class="yl" x="65 72 79" y="271">100</text>
<text class="yl" x="79" y="343">1</text>
<text x="101 108 115 122" y="391">2004</text>
<text x="156 163 170 177" y="391">2006</text>
<text x="212 219 226 233" y="391">2008</text>
<text x="267 274 281 288" y="391">2010</text>
<text x="322 329 336 343" y="391">2012</text>
<text x="378 385 392 399" y="391">2014</text>
<text x="433 440 447 454" y="391">2016</text>
<text x="489 496 503 510" y="391">2018</text>
<text x="544 551 558 565" y="391">2020</text>
<text x="600 607 614 621" y="391">2022</text>
<text x="655 662 669 676" y="391">2024</text>
<text x="710 717 724 731" y="391">2026</text>
<text x="670 677 681 687 694 701 704 708 715 722 729 736" y="9">V-Lab (2026)</text>
<g transform="translate(16,195) rotate(-90)"><text x="-24 -21 -18 -15 -12 -5 2 5 12 15 19" y="0">Illiquidity</text></g>
</svg>
</body>
</html>
